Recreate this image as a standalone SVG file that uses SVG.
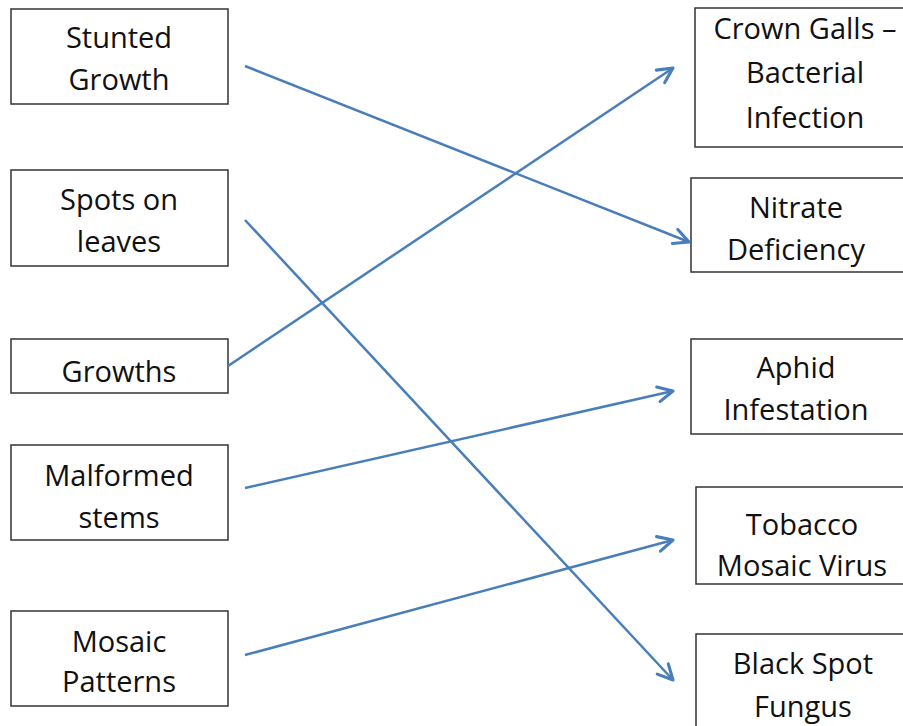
<svg xmlns="http://www.w3.org/2000/svg" width="903" height="726" viewBox="0 0 903 726">
<style>
.box{fill:#fff;stroke:#333;stroke-width:1.5}
.t{font-family:"Open Sans","Liberation Sans",sans-serif;font-size:29px;fill:#111;text-anchor:middle}
.c{fill:none;stroke:#4a7ebb;stroke-width:2.5;marker-end:url(#ah)}
</style>
<defs>
<marker id="ah" markerUnits="userSpaceOnUse" markerWidth="20" markerHeight="20" viewBox="-14 -8 16 16" refX="0" refY="0" orient="auto">
<path d="M-12,-6 L0,0 L-12,6" fill="none" stroke="#4a7ebb" stroke-width="2.5" stroke-linecap="round" stroke-linejoin="round"/>
</marker>
</defs>
<rect width="903" height="726" fill="#fff"/>
<g id="stunted"><rect class="box" x="11" y="9" width="217" height="95"/><text class="t" x="119" y="48">Stunted</text><text class="t" x="119" y="90">Growth</text></g>
<g id="spots"><rect class="box" x="11" y="170" width="217" height="96"/><text class="t" x="119" y="210">Spots on</text><text class="t" x="119" y="252">leaves</text></g>
<g id="growths"><rect class="box" x="11" y="339" width="217" height="54"/><text class="t" x="119" y="382">Growths</text></g>
<g id="malformed"><rect class="box" x="11" y="445" width="217" height="95"/><text class="t" x="119" y="486">Malformed</text><text class="t" x="119" y="528">stems</text></g>
<g id="mosaic"><rect class="box" x="11" y="611" width="217" height="95"/><text class="t" x="119" y="652">Mosaic</text><text class="t" x="119" y="692">Patterns</text></g>
<g id="crown"><rect class="box" x="695" y="8" width="220" height="139"/><text class="t" x="805" y="39">Crown Galls –</text><text class="t" x="805" y="83">Bacterial</text><text class="t" x="805" y="128">Infection</text></g>
<g id="nitrate"><rect class="box" x="691" y="178" width="220" height="94"/><text class="t" x="796" y="218">Nitrate</text><text class="t" x="796" y="260">Deficiency</text></g>
<g id="aphid"><rect class="box" x="691" y="339" width="220" height="95"/><text class="t" x="796" y="378">Aphid</text><text class="t" x="796" y="420">Infestation</text></g>
<g id="tobacco"><rect class="box" x="696" y="487" width="220" height="97"/><text class="t" x="802" y="535">Tobacco</text><text class="t" x="802" y="576">Mosaic Virus</text></g>
<g id="blackspot"><rect class="box" x="696" y="634" width="220" height="110"/><text class="t" x="803" y="674">Black Spot</text><text class="t" x="803" y="717">Fungus</text></g>
<g id="connectors">
<line class="c" x1="245" y1="66" x2="689" y2="242"/>
<line class="c" x1="245" y1="220" x2="673" y2="680"/>
<line class="c" x1="228" y1="366" x2="673" y2="68"/>
<line class="c" x1="245" y1="488" x2="673" y2="391"/>
<line class="c" x1="245" y1="655" x2="673" y2="540"/>
</g>
</svg>
